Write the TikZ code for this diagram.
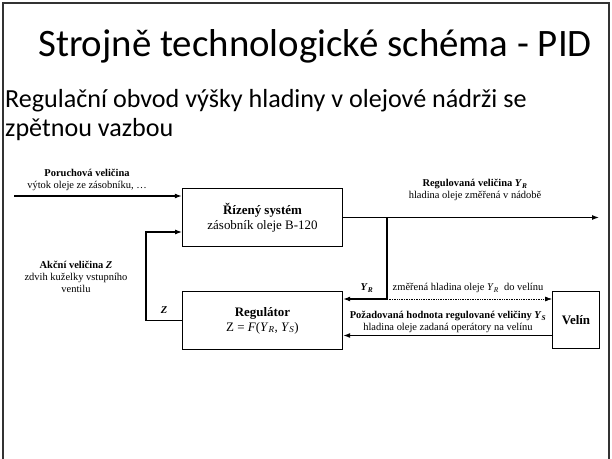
\documentclass[tikz,border=0pt]{standalone}
\usepackage{fontspec}
\setmainfont{Liberation Serif}
\newfontfamily\slidefont{Carlito}
\usetikzlibrary{arrows.meta,positioning}

\tikzset{
  block/.style={draw, line width=1.1, minimum width=161, minimum height=59, align=center, font=\fontsize{13}{15}\selectfont},
  lbl/.style={align=center, font=\fontsize{10.5}{12.3}\selectfont, inner sep=0},
  sig/.style={line width=1.1, -{Latex[length=7,width=5]}},
}

\begin{document}
\begin{tikzpicture}[x=1bp, y=-1bp]
\useasboundingbox (0,0) rectangle (612,459);
% slide frame
\draw[line width=1.6, black!80] (3,459) -- (3,3) -- (609,3) -- (609,459);
\node[font=\slidefont\fontsize{39}{44}\selectfont] (title) at (315,46) {Strojně technologické schéma - PID};
\node[anchor=north west, font=\slidefont\fontsize{26.2}{29}\selectfont, align=left, inner sep=0] (sub) at (5,89)
  {Regulační obvod výšky hladiny v olejové nádrži se\\zpětnou vazbou};

% blocks
\node[block] (sys) at (262.5,217.5) {\textbf{Řízený systém}\\zásobník oleje B-120};
\node[block] (reg) at (262.5,320.5) {\textbf{Regulátor}\\Z = \textit{F}(\textit{Y}\textsubscript{\textit{R}}, \textit{Y}\textsubscript{\textit{S}})};
\node[block, minimum width=47, minimum height=58] (velin) at (576,320) {\textbf{Velín}};

% disturbance
\coordinate (pin) at (14,196);
\draw[sig] (pin) -- (pin -| sys.west);
\node[lbl] (dist) at (87,180) {\textbf{Poruchová veličina}\\výtok oleje ze zásobníku, \dots};

% controlled variable
\coordinate (out) at (599,217.5);
\coordinate (jn) at (387,217.5);
\coordinate (jb) at (387,299);
\draw[sig] (sys.east) -- (out);
\node[lbl] (yr) at (475,190) {\textbf{Regulovaná veličina \textit{Y}\textsubscript{\textit{R}}}\\hladina oleje změřená v nádobě};

% feedback to regulator and to control room
\draw[sig] (jn) -- (jb) -- (jb -| reg.east);
\node[lbl] (yrs) at (367,288) {\textbf{\textit{Y}\textsubscript{\textit{R}}}};
\draw[sig, line width=0.7, densely dotted] (jb) -- (jb -| velin.west);
\node[lbl] (meas) at (468,288) {změřená hladina oleje \textit{Y}\textsubscript{\textit{R}}\ \ do velínu};

% set point
\coordinate (ys) at (553,335.5);
\draw[sig] (ys) -- (ys -| reg.east);
\node[lbl] (set) at (448,322) {\textbf{Požadovaná hodnota regulované veličiny \textit{Y}\textsubscript{\textit{S}}}\\hladina oleje zadaná operátory na velínu};

% actuating variable
\coordinate (zc) at (146,320.5);
\coordinate (zin) at (182,232);
\draw[sig] (reg.west) -- (zc) |- (zin);
\node[lbl] (z) at (164,310) {\textbf{\textit{Z}}};
\node[lbl] (act) at (76,277) {\textbf{Akční veličina \textit{Z}}\\zdvih kuželky vstupního\\ventilu};
\end{tikzpicture}
\end{document}
